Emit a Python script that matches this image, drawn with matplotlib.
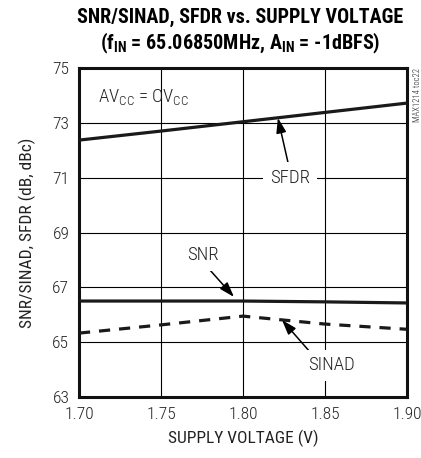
import matplotlib
matplotlib.use("Agg")
from matplotlib import pyplot as plt

# supply voltage sweep and measured dynamic performance
vsupply = [1.70, 1.75, 1.80, 1.85, 1.90]
sfdr = [72.37, 72.70, 73.04, 73.38, 73.72]
snr = [66.50, 66.50, 66.50, 66.47, 66.43]
sinad = [65.33, 65.63, 65.95, 65.66, 65.47]

xticks = [1.70, 1.75, 1.80, 1.85, 1.90]
yticks = [63, 65, 67, 69, 71, 73, 75]


def main():
    fam = ['Roboto Condensed', 'Archivo Narrow', 'PT Sans Narrow', 'DejaVu Sans']
    matplotlib.rcParams['font.family'] = fam
    matplotlib.rcParams['font.weight'] = 'light'
    matplotlib.rcParams['mathtext.fontset'] = 'custom'
    matplotlib.rcParams['mathtext.rm'] = 'Roboto Condensed:light'
    matplotlib.rcParams['mathtext.bf'] = 'Roboto Condensed:bold'
    tc = '#222222'

    fig = plt.figure(figsize=(4.21, 4.58), dpi=100, facecolor='w')
    ax = fig.add_axes([0.1876, 0.1332, 0.779, 0.7183])

    ax.plot(vsupply, sfdr, color='#1a1a1a', lw=2.3, solid_capstyle='butt', zorder=3)
    ax.plot(vsupply, snr, color='#1a1a1a', lw=2.3, solid_capstyle='butt', zorder=3)
    ax.plot(vsupply, sinad, color='#1a1a1a', lw=2.3, dashes=(3.5, 2.8), zorder=3)

    ax.set_xlim(1.70, 1.90)
    ax.set_ylim(63, 75)
    ax.set_xticks(xticks)
    ax.set_xticklabels(["%.2f" % v for v in xticks])
    ax.set_yticks(yticks)
    ax.tick_params(length=0, pad=7, labelsize=12.5, colors=tc)
    ax.grid(True, color='black', lw=0.8)
    ax.set_axisbelow(True)
    for s in ax.spines.values():
        s.set_linewidth(2.2)
        s.set_color('#111111')

    ax.set_xlabel("SUPPLY VOLTAGE (V)", fontsize=12.5, color=tc, labelpad=6)
    ax.set_ylabel("SNR/SINAD, SFDR (dB, dBc)", fontsize=12.5, color=tc, labelpad=12)

    fig.text(0.57, 0.963, "SNR/SINAD, SFDR vs. SUPPLY VOLTAGE",
             ha='center', va='center', fontsize=14.5, fontweight='bold', color='black')
    fig.text(0.57, 0.906,
             r"(f$_{\mathbf{IN}}$ = 65.06850MHz, A$_{\mathbf{IN}}$ = -1dBFS)",
             ha='center', va='center', fontsize=14.5, fontweight='bold', color='black')

    ax.text(1.7116, 73.9, r"AV$_{\rm CC}$ = OV$_{\rm CC}$", fontsize=13.5,
            ha='left', va='center', color=tc)
    ax.text(1.9035, 75, "MAX1214 toc22", rotation=90, fontsize=6.2,
            ha='left', va='top', color=tc, clip_on=False)

    bb = dict(boxstyle='square,pad=0.35', fc='white', ec='none')
    arrow = dict(arrowstyle='-|>,head_length=0.9,head_width=0.3', color='black', lw=1.1,
                 shrinkA=0, shrinkB=0)
    ax.annotate("", xy=(1.8213, 73.18), xytext=(1.8274, 71.57), arrowprops=arrow, zorder=4)
    ax.text(1.8287, 70.99, "SFDR", fontsize=13.5, ha='center', va='center',
            color=tc, bbox=bb, zorder=4)

    ax.annotate("", xy=(1.7945, 66.65), xytext=(1.7787, 67.71), arrowprops=arrow, zorder=4)
    ax.text(1.7756, 68.18, "SNR", fontsize=13.5, ha='center', va='center',
            color=tc, bbox=bb, zorder=4)

    ax.annotate("", xy=(1.8238, 65.81), xytext=(1.8409, 64.64), arrowprops=arrow, zorder=4)
    ax.text(1.854, 64.16, "SINAD", fontsize=13.5, ha='center', va='center',
            color=tc, bbox=bb, zorder=4)

    fig.savefig("out.png", dpi=100, facecolor='w')


if __name__ == "__main__":
    main()
